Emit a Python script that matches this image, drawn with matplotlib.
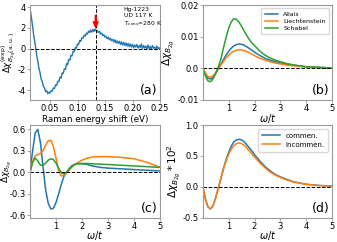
import numpy as np
from matplotlib import pyplot as plt

# (a) experimental spectrum
chi_exp = [3.80, 3.05, 2.30, 1.45, 0.75, 0.05, -0.70, -1.25, -1.95, -2.35,
           -2.95, -3.20, -3.65, -3.80, -4.15, -4.05, -4.35, -4.20, -4.30, -4.05,
           -4.10, -3.80, -3.85, -3.50, -3.55, -3.15, -3.20, -2.75, -2.85, -2.35,
           -2.40, -1.95, -2.00, -1.45, -1.55, -1.05, -1.10, -0.65, -0.70, -0.25,
           -0.30, 0.10, 0.05, 0.45, 0.40, 0.80, 0.70, 1.05, 1.00, 1.30,
           1.20, 1.50, 1.40, 1.70, 1.55, 1.80, 1.60, 1.85, 1.65, 1.90,
           1.70, 1.75, 1.55, 1.65, 1.40, 1.50, 1.25, 1.35, 1.10, 1.20,
           0.95, 1.10, 0.85, 1.00, 0.75, 0.90, 0.65, 0.85, 0.55, 0.75,
           0.50, 0.70, 0.40, 0.65, 0.35, 0.60, 0.30, 0.55, 0.25, 0.50,
           0.20, 0.45, 0.15, 0.40, 0.10, 0.35, 0.15, 0.40, 0.05, 0.30,
           0.10, 0.45, 0.00, 0.30, 0.05, 0.25, -0.05, 0.35, 0.00, 0.20,
           -0.10, 0.30, 0.05, 0.15, -0.10, 0.25, 0.00, 0.10, -0.05]
energy = np.linspace(0.014, 0.25, len(chi_exp))
peak_pos = 0.133

# (b) and (d) share this grid
w_bd = [0, 0.1, 0.2, 0.3, 0.4, 0.5, 0.6, 0.7, 0.8, 0.9, 1.0, 1.1, 1.2, 1.3, 1.4, 1.5,
        1.6, 1.7, 1.8, 1.9, 2.0, 2.2, 2.4, 2.6, 2.8, 3.0, 3.25, 3.5, 3.75, 4.0, 4.5, 5.0]
allais = [0, -0.0018, -0.0031, -0.0034, -0.0028, -0.0016, -0.0002, 0.0013, 0.0028, 0.0042,
          0.0054, 0.0064, 0.0071, 0.0075, 0.0077, 0.0076, 0.0073, 0.0068, 0.0063, 0.0057,
          0.0051, 0.0041, 0.0032, 0.0026, 0.0021, 0.0017, 0.0013, 0.0010, 0.0007, 0.0005,
          0.0003, 0.0001]
liechtenstein = [0, -0.0015, -0.0026, -0.0028, -0.0023, -0.0013, -0.0002, 0.0010, 0.0022, 0.0033,
                 0.0042, 0.0049, 0.0054, 0.0057, 0.0058, 0.0058, 0.0056, 0.0053, 0.0049, 0.0045,
                 0.0040, 0.0032, 0.0026, 0.0021, 0.0017, 0.0014, 0.0010, 0.0008, 0.0006, 0.0004,
                 0.0002, 0.0001]
schabel = [0, -0.0025, -0.0040, -0.0042, -0.0033, -0.0015, 0.0005, 0.0030, 0.0065, 0.0098,
           0.0127, 0.0147, 0.0157, 0.0155, 0.0146, 0.0133, 0.0118, 0.0104, 0.0091, 0.0080,
           0.0072, 0.0055, 0.0042, 0.0033, 0.0026, 0.0021, 0.0015, 0.0011, 0.0008, 0.0005,
           0.0003, 0.0001]
commen = [0, -0.20, -0.33, -0.36, -0.30, -0.17, -0.02, 0.14, 0.30, 0.44,
          0.56, 0.66, 0.73, 0.76, 0.77, 0.76, 0.73, 0.68, 0.63, 0.58,
          0.52, 0.42, 0.33, 0.26, 0.20, 0.16, 0.12, 0.08, 0.06, 0.04, 0.02, 0.01]
incommen = [0, -0.20, -0.33, -0.36, -0.30, -0.17, -0.02, 0.14, 0.29, 0.42,
            0.53, 0.61, 0.67, 0.70, 0.71, 0.70, 0.67, 0.63, 0.58, 0.53,
            0.48, 0.39, 0.31, 0.24, 0.19, 0.15, 0.11, 0.08, 0.06, 0.04, 0.02, 0.01]

# (c)
w_c = [0, 0.1, 0.2, 0.3, 0.4, 0.5, 0.6, 0.7, 0.8, 0.9, 1.0, 1.1, 1.2, 1.3, 1.4, 1.5,
       1.6, 1.7, 1.8, 1.9, 2.0, 2.2, 2.4, 2.7, 3.0, 3.5, 4.0, 4.5, 5.0]
c_blue = [0, 0.30, 0.55, 0.60, 0.42, 0.08, -0.24, -0.43, -0.51, -0.50, -0.42, -0.30, -0.17,
          -0.06, 0.00, 0.05, 0.09, 0.11, 0.12, 0.12, 0.12, 0.11, 0.09, 0.07, 0.06, 0.05,
          0.04, 0.03, 0.02]
c_orange = [0, 0.15, 0.235, 0.25, 0.26, 0.30, 0.38, 0.44, 0.45, 0.36, 0.20, 0.02, -0.05,
            -0.04, -0.01, 0.03, 0.07, 0.10, 0.13, 0.15, 0.17, 0.20, 0.215, 0.22, 0.22, 0.21,
            0.19, 0.14, 0.07]
c_green = [0, 0.14, 0.20, 0.16, 0.10, 0.10, 0.13, 0.17, 0.19, 0.18, 0.13, 0.06, 0.00,
           -0.02, 0.00, 0.04, 0.08, 0.11, 0.12, 0.125, 0.125, 0.125, 0.12, 0.115, 0.11, 0.10,
           0.09, 0.08, 0.07]

plt.rcParams['font.family'] = 'DejaVu Sans'
fig = plt.figure(figsize=(3.37, 2.42), dpi=100)
axa = fig.add_axes([0.089, 0.587, 0.386, 0.392])
axb = fig.add_axes([0.602, 0.587, 0.383, 0.392])
axc = fig.add_axes([0.089, 0.101, 0.386, 0.382])
axd = fig.add_axes([0.602, 0.101, 0.383, 0.382])

for ax in (axa, axb, axc, axd):
    for s in ax.spines.values():
        s.set_color('0.6')
        s.set_linewidth(0.8)
    ax.tick_params(length=2, width=0.6, color='0.6', labelsize=6, pad=1)

# (a)
axa.plot(energy, chi_exp, color='C0', lw=1.0)
axa.axhline(0, color='k', ls='--', lw=0.7)
axa.axvline(peak_pos, color='k', ls='--', lw=0.7)
axa.annotate('', xy=(peak_pos, 2.05), xytext=(peak_pos, 3.2),
             arrowprops=dict(color='red', width=0.6, headwidth=3.5, headlength=4))
axa.set_xlim(0.0136, 0.25)
axa.set_ylim(-4.95, 4.2)
axa.set_xticks([0.05, 0.10, 0.15, 0.20, 0.25])
axa.set_xticklabels(['0.05', '0.10', '0.15', '0.20', '0.25'])
axa.set_yticks([-4, -2, 0, 2, 4])
axa.set_yticklabels(['-4', '-2', '0', '2', '4'])
axa.set_xlabel('Raman energy shift (eV)', fontsize=6.3, labelpad=1)
axa.set_ylabel(r'$\Delta\chi^{(\rm exp)}_{B_{2g}({\rm a.u.})}$', fontsize=6.3, labelpad=0)
axa.yaxis.set_label_coords(-0.09, 0.5)
axa.text(0.72, 0.98, 'Hg-1223\nUD 117 K\n' + r'T$_{\rm conv}$=280 K', transform=axa.transAxes,
         fontsize=4.3, va='top', ha='left', linespacing=1.2)
axa.text(0.98, 0.03, '(a)', transform=axa.transAxes, fontsize=9, ha='right', va='bottom')

# (b)
axb.plot(w_bd, allais, color='C0', lw=1.1, label='Allais')
axb.plot(w_bd, liechtenstein, color='C1', lw=1.1, label='Liechtenstein')
axb.plot(w_bd, schabel, color='C2', lw=1.1, label='Schabel')
axb.axhline(0, color='k', ls='--', lw=0.7)
axb.set_xlim(0, 5)
axb.set_ylim(-0.01, 0.02)
axb.set_xticks([1, 2, 3, 4, 5])
axb.set_yticks([-0.01, 0.0, 0.01, 0.02])
axb.set_yticklabels(['-0.01', '0.0', '0.01', '0.02'])
axb.set_xlabel(r'$\omega/t$', fontsize=7, labelpad=-1)
axb.set_ylabel(r'$\Delta\chi_{B_{2g}}$', fontsize=7.5, labelpad=0)
axb.legend(fontsize=4.5, loc='upper right', handlelength=2.2, borderpad=0.5,
           labelspacing=0.3, framealpha=1, edgecolor='0.85')
axb.text(0.98, 0.03, '(b)', transform=axb.transAxes, fontsize=9, ha='right', va='bottom')

# (c)
axc.plot(w_c, c_blue, color='C0', lw=1.1)
axc.plot(w_c, c_orange, color='C1', lw=1.1)
axc.plot(w_c, c_green, color='C2', lw=1.1)
axc.axhline(0, color='k', ls='--', lw=0.7)
axc.set_xlim(0, 5)
axc.set_ylim(-0.63, 0.66)
axc.set_xticks([1, 2, 3, 4, 5])
axc.set_yticks([-0.6, -0.3, 0.0, 0.3, 0.6])
axc.set_yticklabels(['-0.6', '-0.3', '0.0', '0.3', '0.6'])
axc.set_xlabel(r'$\omega/t$', fontsize=7, labelpad=-1.5)
axc.set_ylabel(r'$\Delta\chi_{B_{2g}}$', fontsize=6.5, labelpad=0)
axc.yaxis.set_label_coords(-0.122, 0.5)
axc.text(0.98, 0.03, '(c)', transform=axc.transAxes, fontsize=9, ha='right', va='bottom')

# (d)
axd.plot(w_bd, commen, color='C0', lw=1.1, label='commen.')
axd.plot(w_bd, incommen, color='C1', lw=1.1, label='incommen.')
axd.axhline(0, color='k', ls='--', lw=0.7)
axd.set_xlim(0, 5)
axd.set_ylim(-0.5, 1.0)
axd.set_xticks([1, 2, 3, 4, 5])
axd.set_yticks([-0.5, 0.0, 0.5, 1.0])
axd.set_yticklabels(['-0.5', '0.0', '0.5', '1.0'])
axd.set_xlabel(r'$\omega/t$', fontsize=7, labelpad=-1.5)
axd.set_ylabel(r'$\Delta\chi_{B_{2g}}*10^2$', fontsize=7.5, labelpad=0)
axd.legend(fontsize=5, loc='upper right', handlelength=2.5, borderpad=0.6,
           labelspacing=0.4, framealpha=1, edgecolor='0.85')
axd.text(0.98, 0.03, '(d)', transform=axd.transAxes, fontsize=9, ha='right', va='bottom')

fig.savefig('out.png', dpi=100)
